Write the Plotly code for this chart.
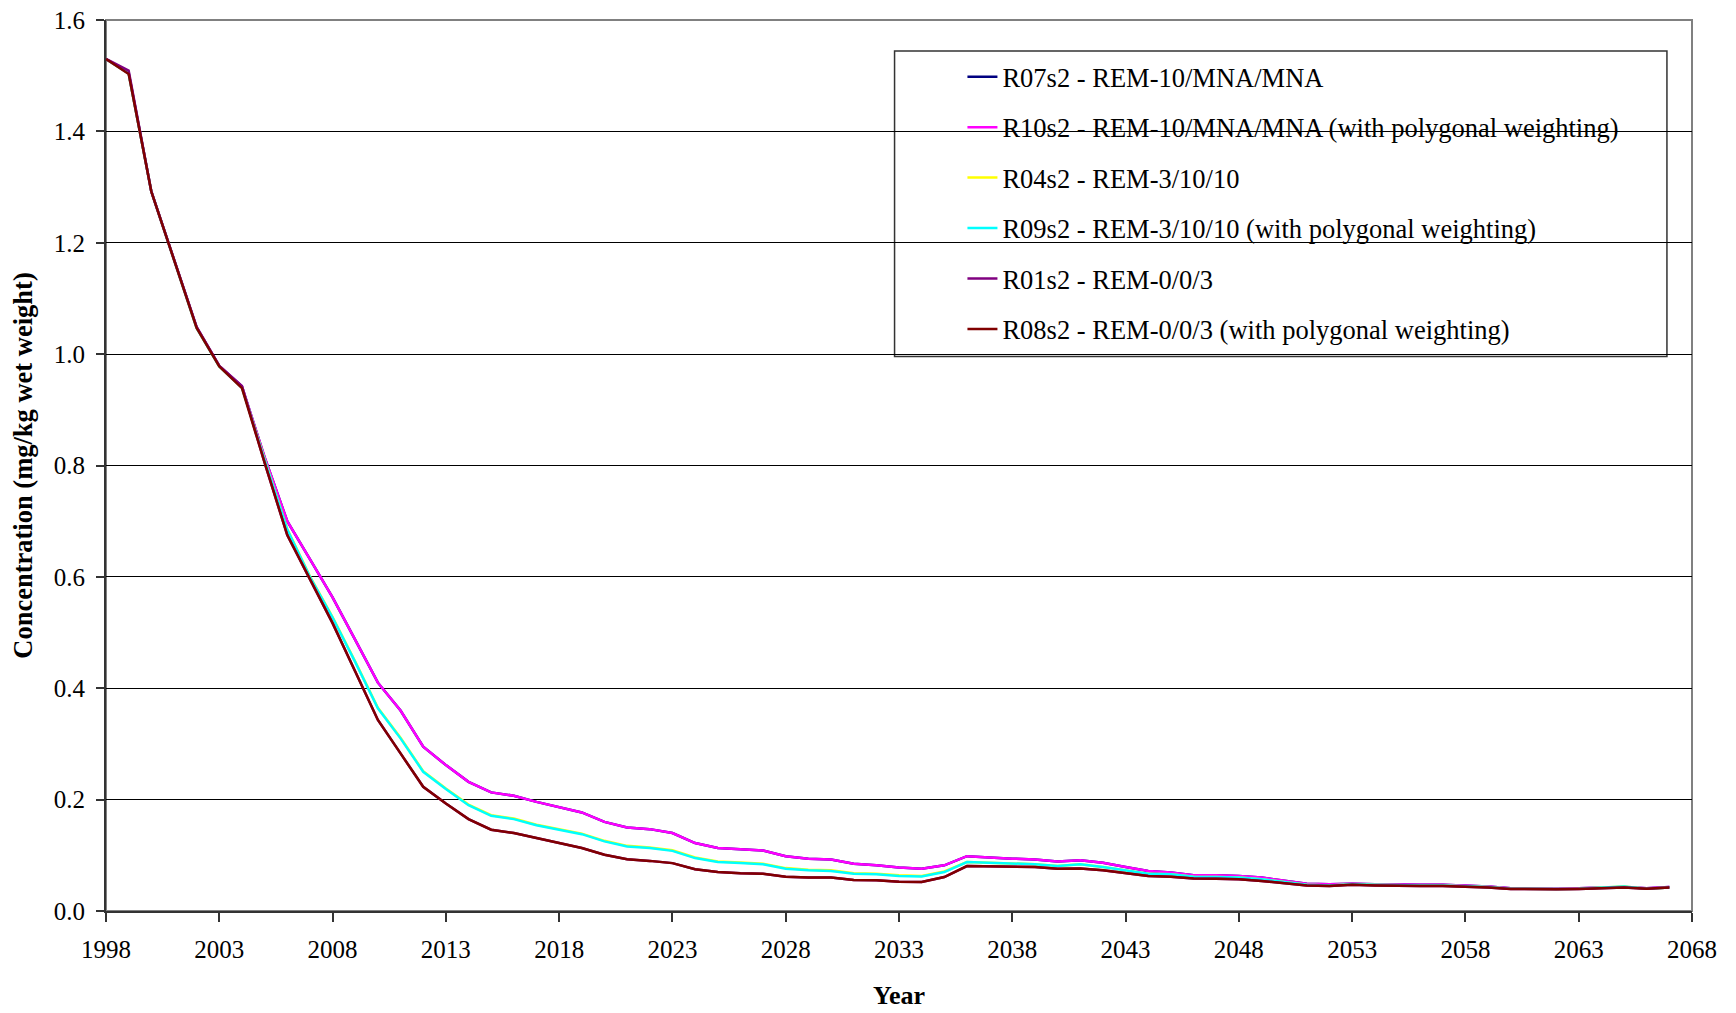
import plotly.graph_objects as go

years = list(range(1998, 2068))

r07s2 = [
    1.530, 1.505, 1.292, 1.170, 1.048, 0.979, 0.942, 0.815, 0.700, 0.632,
    0.563, 0.487, 0.410, 0.360, 0.295, 0.262, 0.232, 0.213, 0.207, 0.196,
    0.187, 0.177, 0.160, 0.150, 0.147, 0.140, 0.122, 0.113, 0.111, 0.1087,
    0.0985, 0.094, 0.0925, 0.085, 0.082, 0.078, 0.076, 0.082, 0.0985, 0.096,
    0.094, 0.0925, 0.089, 0.091, 0.0866, 0.079, 0.072, 0.069, 0.064, 0.064,
    0.063, 0.060, 0.055, 0.049, 0.048, 0.049, 0.048, 0.047, 0.047, 0.047,
    0.046, 0.044, 0.041, 0.0405, 0.0405, 0.041, 0.042, 0.043, 0.041, 0.043,
]
r10s2 = [
    1.530, 1.505, 1.292, 1.170, 1.048, 0.979, 0.942, 0.815, 0.700, 0.632,
    0.563, 0.487, 0.410, 0.360, 0.295, 0.262, 0.232, 0.213, 0.207, 0.196,
    0.187, 0.177, 0.160, 0.150, 0.147, 0.140, 0.122, 0.113, 0.111, 0.1087,
    0.0985, 0.094, 0.0925, 0.085, 0.082, 0.078, 0.076, 0.082, 0.0985, 0.096,
    0.094, 0.0925, 0.089, 0.091, 0.0866, 0.079, 0.072, 0.069, 0.064, 0.064,
    0.063, 0.060, 0.055, 0.049, 0.048, 0.049, 0.048, 0.047, 0.047, 0.047,
    0.046, 0.044, 0.041, 0.0405, 0.0405, 0.041, 0.042, 0.043, 0.041, 0.043,
]
r04s2 = [
    1.530, 1.504, 1.292, 1.170, 1.047, 0.978, 0.940, 0.811, 0.686, 0.601,
    0.528, 0.448, 0.365, 0.311, 0.251, 0.220, 0.191, 0.172, 0.166, 0.155,
    0.147, 0.139, 0.126, 0.117, 0.114, 0.109, 0.096, 0.089, 0.087, 0.085,
    0.077, 0.074, 0.073, 0.068, 0.067, 0.064, 0.063, 0.071, 0.088, 0.0866,
    0.085, 0.084, 0.081, 0.084, 0.079, 0.073, 0.067, 0.066, 0.0615, 0.061,
    0.060, 0.057, 0.052, 0.047, 0.046, 0.048, 0.047, 0.046, 0.046, 0.046,
    0.045, 0.043, 0.040, 0.0395, 0.0395, 0.040, 0.0415, 0.044, 0.040, 0.042,
]
r09s2 = [
    1.530, 1.504, 1.292, 1.170, 1.047, 0.978, 0.940, 0.810, 0.685, 0.600,
    0.527, 0.447, 0.364, 0.310, 0.250, 0.219, 0.190, 0.171, 0.165, 0.154,
    0.146, 0.138, 0.125, 0.116, 0.113, 0.108, 0.095, 0.088, 0.086, 0.084,
    0.076, 0.073, 0.072, 0.067, 0.066, 0.063, 0.062, 0.070, 0.088, 0.0866,
    0.085, 0.084, 0.081, 0.084, 0.079, 0.073, 0.067, 0.066, 0.0615, 0.061,
    0.060, 0.057, 0.052, 0.047, 0.046, 0.048, 0.047, 0.046, 0.046, 0.046,
    0.045, 0.043, 0.040, 0.0395, 0.0395, 0.040, 0.0415, 0.044, 0.040, 0.042,
]
r01s2 = [
    1.530, 1.509, 1.292, 1.169, 1.049, 0.979, 0.943, 0.805, 0.675, 0.596,
    0.517, 0.430, 0.343, 0.283, 0.223, 0.193, 0.165, 0.146, 0.140, 0.131,
    0.122, 0.113, 0.101, 0.093, 0.090, 0.086, 0.075, 0.070, 0.068, 0.067,
    0.0615, 0.060, 0.060, 0.0555, 0.055, 0.0525, 0.052, 0.061, 0.0806, 0.080,
    0.0794, 0.079, 0.076, 0.0764, 0.073, 0.0675, 0.063, 0.0615, 0.0585, 0.058,
    0.057, 0.054, 0.0495, 0.046, 0.045, 0.047, 0.046, 0.045, 0.045, 0.045,
    0.044, 0.042, 0.0395, 0.039, 0.039, 0.0395, 0.041, 0.042, 0.040, 0.042,
]
r08s2 = [
    1.530, 1.503, 1.292, 1.169, 1.047, 0.978, 0.939, 0.805, 0.675, 0.596,
    0.517, 0.430, 0.343, 0.283, 0.223, 0.193, 0.165, 0.146, 0.140, 0.131,
    0.122, 0.113, 0.101, 0.093, 0.090, 0.086, 0.075, 0.070, 0.068, 0.067,
    0.0615, 0.060, 0.060, 0.0555, 0.055, 0.0525, 0.052, 0.061, 0.0806, 0.080,
    0.0794, 0.079, 0.076, 0.0764, 0.073, 0.0675, 0.063, 0.0615, 0.0585, 0.058,
    0.057, 0.054, 0.0495, 0.046, 0.045, 0.047, 0.046, 0.045, 0.045, 0.045,
    0.044, 0.042, 0.0395, 0.039, 0.039, 0.0395, 0.041, 0.042, 0.040, 0.042,
]

series_names = [
    "R07s2 - REM-10/MNA/MNA",
    "R10s2 - REM-10/MNA/MNA (with polygonal weighting)",
    "R04s2 - REM-3/10/10",
    "R09s2 - REM-3/10/10 (with polygonal weighting)",
    "R01s2 - REM-0/0/3",
    "R08s2 - REM-0/0/3 (with polygonal weighting)",
]
series_values = [r07s2, r10s2, r04s2, r09s2, r01s2, r08s2]
series_colors = ["#000080", "#FF00FF", "#FFFF00", "#00FFFF", "#800080", "#800000"]

x_ticks = list(range(1998, 2069, 5))
y_ticks = [0.0, 0.2, 0.4, 0.6, 0.8, 1.0, 1.2, 1.4, 1.6]

FONT = "Liberation Serif, Times New Roman, serif"

fig = go.Figure()
for i, (name, vals, col) in enumerate(zip(series_names, series_values, series_colors)):
    fig.add_trace(go.Scatter(
        x=years, y=vals, mode="lines", name=name,
        line=dict(color=col, width=2.5),
        legendgroup=f"g{i}",
    ))

fig.update_layout(
    width=1728, height=1005,
    margin=dict(l=98, r=44, t=12, b=102, autoexpand=False),
    paper_bgcolor="white", plot_bgcolor="white",
    font=dict(family=FONT, size=25, color="black"),
    showlegend=True,
    legend=dict(
        x=0.540, y=0.963, xanchor="left", yanchor="top",
        bgcolor="rgba(0,0,0,0)", borderwidth=0,
        font=dict(family=FONT, size=26.5, color="black"),
        tracegroupgap=13, traceorder="grouped",
    ),
    xaxis=dict(
        range=[1998, 2068], tickmode="array", tickvals=x_ticks,
        ticktext=[str(v) for v in x_ticks],
        showgrid=False, zeroline=False,
        showline=True, linecolor="#333333", linewidth=2,
        ticks="outside", ticklen=9, tickwidth=1.5, tickcolor="#333333",
        ticklabelstandoff=6, ticklabeloverflow="allow",
        tickfont=dict(family=FONT, size=25),
        title=dict(text="<b>Year</b>", font=dict(family=FONT, size=26), standoff=24),
        automargin=False,
    ),
    yaxis=dict(
        range=[0, 1.6], tickmode="array", tickvals=y_ticks,
        ticktext=[f"{v:.1f}" for v in y_ticks],
        showgrid=True, gridcolor="#000000", gridwidth=1,
        zeroline=False,
        showline=True, linecolor="#333333", linewidth=2,
        ticks="outside", ticklen=8, tickwidth=1.5, tickcolor="#333333",
        ticklabelstandoff=6, ticklabeloverflow="allow",
        tickfont=dict(family=FONT, size=25),
        title=dict(text="<b>Concentration (mg/kg wet weight)</b>",
                   font=dict(family=FONT, size=26.5), standoff=13),
        automargin=False,
    ),
    shapes=[
        dict(type="rect", xref="paper", yref="paper", x0=0, x1=1, y0=0, y1=1,
             line=dict(color="#808080", width=2), fillcolor="rgba(0,0,0,0)", layer="below"),
        dict(type="rect", xref="paper", yref="paper", x0=0.4972, x1=0.9842, y0=0.6223, y1=0.9652,
             line=dict(color="#333333", width=1.5), fillcolor="white", layer="below"),
    ],
)

fig.write_html("out.html")
